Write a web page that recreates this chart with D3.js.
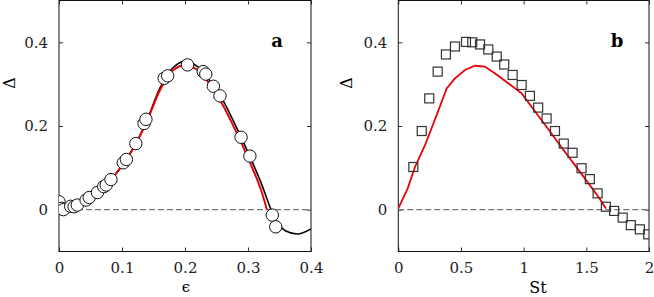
<!DOCTYPE html>
<html>
<head>
<meta charset="utf-8">
<script src="https://cdn.jsdelivr.net/npm/d3@7"></script>
<style>
  body { margin: 0; background: #fff; }
  svg text { font-family: "DejaVu Serif", "Liberation Serif", "Times New Roman", serif !important; }
</style>
</head>
<body>
<div id="vis"></div>
<script>
// panel a: epsilon
var epsCircles = [0, 0.004, 0.007, 0.0185, 0.024, 0.029, 0.043, 0.048, 0.061, 0.071, 0.075, 0.0825,
    0.102, 0.107, 0.122, 0.135, 0.138, 0.167, 0.1725, 0.204, 0.229, 0.233, 0.245, 0.2555, 0.289, 0.303, 0.3386, 0.344];
var deltaCircles = [0.019, 0.003, 0.0, 0.008, 0.007, 0.011, 0.023, 0.029, 0.041, 0.055, 0.059, 0.072,
    0.112, 0.12, 0.158, 0.206, 0.216, 0.314, 0.32, 0.346, 0.33, 0.324, 0.295, 0.272, 0.173, 0.128, -0.013, -0.041];

var epsBlack = [0, 0.02, 0.04, 0.06, 0.08, 0.10, 0.12, 0.14, 0.16, 0.18, 0.20, 0.22, 0.24, 0.26, 0.28, 0.30, 0.32, 0.34, 0.35, 0.36, 0.38, 0.40];
var deltaBlack = [0.0, 0.005, 0.018, 0.04, 0.068, 0.105, 0.152, 0.215, 0.29, 0.338, 0.355, 0.342, 0.307, 0.262, 0.202, 0.137, 0.067, -0.012, -0.038, -0.051, -0.058, -0.046];

var epsRed = [0, 0.02, 0.04, 0.06, 0.08, 0.10, 0.12, 0.14, 0.16, 0.18, 0.20, 0.22, 0.24, 0.26, 0.28, 0.30, 0.32, 0.33];
var deltaRed = [0.0, 0.005, 0.018, 0.04, 0.068, 0.105, 0.152, 0.213, 0.285, 0.332, 0.346, 0.334, 0.298, 0.25, 0.19, 0.124, 0.05, 0.0];

// panel b: Stokes number
var stSquares = [0.12, 0.187, 0.247, 0.314, 0.38, 0.452, 0.54, 0.59, 0.652, 0.718, 0.785, 0.845, 0.912, 0.984,
    1.05, 1.116, 1.183, 1.25, 1.32, 1.39, 1.462, 1.528, 1.59, 1.656, 1.722, 1.79, 1.855, 1.927, 1.994];
var deltaSquares = [0.102, 0.188, 0.266, 0.33, 0.371, 0.39, 0.401, 0.40, 0.395, 0.383, 0.366, 0.347, 0.322, 0.298,
    0.272, 0.244, 0.218, 0.188, 0.158, 0.136, 0.099, 0.073, 0.039, 0.007, -0.003, -0.019, -0.037, -0.047, -0.059];

var stRed = [0, 0.075, 0.133, 0.213, 0.306, 0.386, 0.452, 0.532, 0.612, 0.69, 0.77, 0.877, 0.984, 1.1, 1.2, 1.3, 1.4, 1.5, 1.6, 1.656];
var deltaRedB = [0.003, 0.051, 0.102, 0.154, 0.226, 0.29, 0.314, 0.334, 0.344, 0.342, 0.326, 0.302, 0.278, 0.231, 0.191, 0.15, 0.11, 0.07, 0.029, 0.003];

var yTicks = [0, 0.2, 0.4];
var xTicksA = [0, 0.1, 0.2, 0.3, 0.4];
var xTicksB = [0, 0.5, 1, 1.5, 2];

var serif = "'DejaVu Serif', 'Liberation Serif', 'Times New Roman', serif";

function zip(xs, ys)
{
    return xs.map(function(x, i) { return [x, ys[i]]; });
}

var width = 654, height = 297;

var svg = d3.select("#vis")
    .append("svg")
        .attr("width", width)
        .attr("height", height)
        .attr("font-family", serif);

var y = d3.scaleLinear().domain([-0.1, 0.5]).range([251.5, 0.5]);

function drawPanel(opts)
{
    var x = opts.x;
    var g = svg.append("g");
    var x0 = x.range()[0], x1 = x.range()[1];

    var clipId = "clip-" + opts.letter;
    svg.append("clipPath").attr("id", clipId)
        .append("rect")
            .attr("x", x0).attr("y", y.range()[1])
            .attr("width", x1 - x0).attr("height", y.range()[0] - y.range()[1]);

    // axes with inward ticks
    var fmt = function(d) { return String(d); };
    g.append("g")
        .attr("transform", "translate(" + x0 + ",0)")
        .call(d3.axisLeft(y).tickValues(yTicks).tickSize(-4).tickSizeOuter(0).tickPadding(11).tickFormat(fmt));
    g.append("g")
        .attr("transform", "translate(" + x1 + ",0)")
        .call(d3.axisRight(y).tickValues(yTicks).tickSize(-4).tickSizeOuter(0).tickFormat(""));
    g.append("g")
        .attr("transform", "translate(0," + y.range()[0] + ")")
        .call(d3.axisBottom(x).tickValues(opts.xTicks).tickSize(-4).tickSizeOuter(0).tickPadding(11).tickFormat(fmt));
    g.append("g")
        .attr("transform", "translate(0," + y.range()[1] + ")")
        .call(d3.axisTop(x).tickValues(opts.xTicks).tickSize(-4).tickSizeOuter(0).tickFormat(""));

    g.selectAll(".domain").remove();
    g.selectAll("g").attr("font-family", serif);
    g.selectAll(".tick line").attr("stroke", "#333");
    g.selectAll(".tick text")
        .attr("font-size", 15)
        .style("font-family", serif)
        .attr("fill", "#222");

    // frame
    g.append("rect")
        .attr("x", x0).attr("y", y.range()[1])
        .attr("width", x1 - x0).attr("height", y.range()[0] - y.range()[1])
        .attr("fill", "none")
        .attr("stroke", "#111")
        .attr("stroke-width", 1);

    // zero line
    g.append("line")
        .attr("x1", x0).attr("x2", x1)
        .attr("y1", y(0)).attr("y2", y(0))
        .attr("stroke", "#777")
        .attr("stroke-width", 1.4)
        .attr("stroke-dasharray", "6,3");

    var plot = g.append("g").attr("clip-path", "url(#" + clipId + ")");
    var line = d3.line()
        .x(function(d) { return x(d[0]); })
        .y(function(d) { return y(d[1]); });

    opts.lines.forEach(function(l) {
        plot.append("path")
            .datum(l.data)
            .attr("fill", "none")
            .attr("stroke", l.color)
            .attr("stroke-width", l.width)
            .attr("d", line.curve(l.curve));
    });

    opts.markers(plot, x);

    // labels
    g.append("text")
        .attr("transform", "translate(" + opts.yLabelX + "," + 83 + ") rotate(-90)")
        .attr("text-anchor", "middle")
        .attr("dy", "0.35em")
        .attr("font-size", 16)
        .style("font-family", serif)
        .text("\u0394");
    g.append("text")
        .attr("x", opts.xLabelX).attr("y", opts.xLabelY)
        .attr("text-anchor", "middle")
        .attr("font-size", opts.xLabelSize)
        .style("font-family", serif)
        .text(opts.xLabel);
    g.append("text")
        .attr("x", opts.letterX).attr("y", 47)
        .attr("text-anchor", "middle")
        .attr("font-size", 18)
        .attr("font-weight", "bold")
        .style("font-family", serif)
        .text(opts.letter);
}

drawPanel({
    x: d3.scaleLinear().domain([0, 0.4]).range([59, 311]),
    xTicks: xTicksA,
    letter: "a", letterX: 277,
    xLabel: "\u03f5", xLabelX: 186, xLabelY: 292, xLabelSize: 15,
    yLabelX: 9,
    lines: [
        { data: zip(epsBlack, deltaBlack), color: "#000", width: 1.6, curve: d3.curveCatmullRom },
        { data: zip(epsRed, deltaRed), color: "#e8000b", width: 2, curve: d3.curveCatmullRom }
    ],
    markers: function(plot, x) {
        plot.selectAll(".dot")
            .data(zip(epsCircles, deltaCircles))
            .enter()
            .append("circle")
                .attr("class", "dot")
                .attr("cx", function(d) { return x(d[0]); })
                .attr("cy", function(d) { return y(d[1]); })
                .attr("r", 6.2)
                .attr("fill", "#fff")
                .attr("stroke", "#111")
                .attr("stroke-width", 1);
    }
});

drawPanel({
    x: d3.scaleLinear().domain([0, 2]).range([398.3, 649]),
    xTicks: xTicksB,
    letter: "b", letterX: 617,
    xLabel: "St", xLabelX: 538, xLabelY: 293, xLabelSize: 16,
    yLabelX: 346,
    lines: [
        { data: zip(stRed, deltaRedB), color: "#e8000b", width: 1.8, curve: d3.curveLinear }
    ],
    markers: function(plot, x) {
        var s = 9;
        plot.selectAll(".sq")
            .data(zip(stSquares, deltaSquares))
            .enter()
            .append("rect")
                .attr("class", "sq")
                .attr("x", function(d) { return x(d[0]) - s / 2; })
                .attr("y", function(d) { return y(d[1]) - s / 2; })
                .attr("width", s).attr("height", s)
                .attr("fill", "none")
                .attr("stroke", "#333")
                .attr("stroke-width", 1.2);
    }
});
</script>
</body>
</html>
